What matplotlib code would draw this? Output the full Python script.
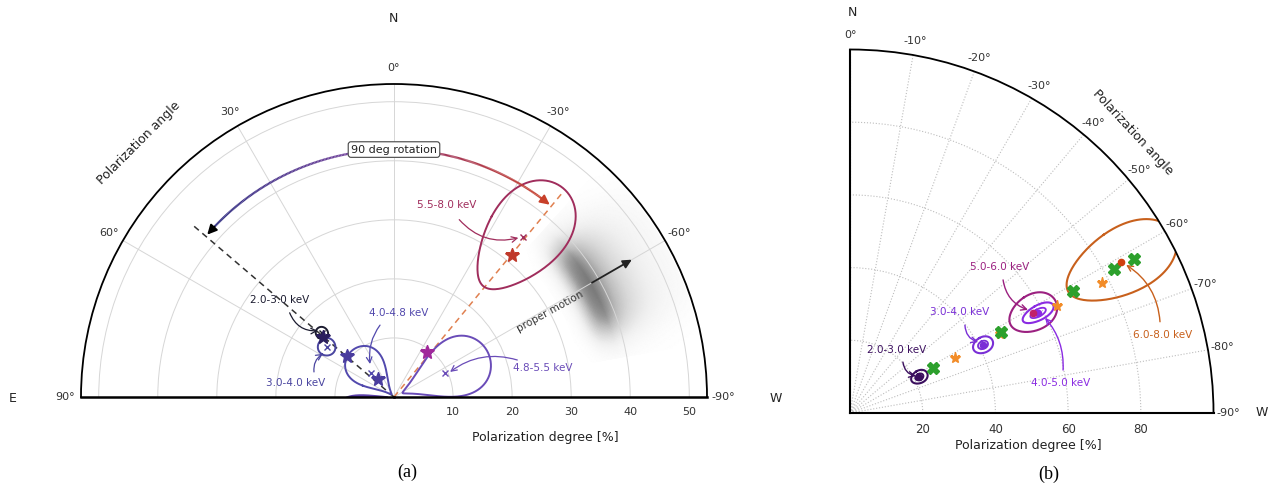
import numpy as np
import matplotlib
matplotlib.use('Agg')
import matplotlib.pyplot as plt
from matplotlib.collections import LineCollection
from matplotlib.colors import LinearSegmentedColormap

plt.rcParams['font.family'] = ['DejaVu Sans']

# ---------------- Panel (a) data ----------------
a_bands = ['2.0-3.0 keV', '3.0-4.0 keV', '4.0-4.8 keV', '4.8-5.5 keV', '5.5-8.0 keV']
a_pa = [48.4, 53.3, 43.0, -64.8, -38.9]          # measured angle [deg]
a_pd = [16.3, 14.2, 5.6, 9.6, 34.8]              # measured degree [%]
a_pa_err = [3.5, 6.0, 27.0, 25.0, 10.5]
a_pd_err = [1.1, 1.5, 5.0, 8.0, 10.7]
a_colors = ['#1c1c30', '#4a45a0', '#5249ad', '#6a4cb8', '#a02d5c']
a_model_pa = [49.8, 48.9, 41.6, -36.0, -39.7]
a_model_pd = [15.8, 10.6, 4.1, 9.5, 31.3]
a_model_colors = ['#2a1e5e', '#4a3d9e', '#4a3d9e', '#a0289a', '#c0392b']
a_extra_pa = [97.0]          # clipped contour near the origin
a_extra_pd = [5.0]
a_extra_pa_err = [9.0]
a_extra_pd_err = [3.8]
a_rot_before = 49.5          # direction before rotation
a_rot_after = -39.5          # direction after rotation
a_rot_len = [44.7, 45.0]
a_proper_motion_pa = -60.0
a_proper_motion_pd = [38.7, 46.5]

# ---------------- Panel (b) data ----------------
b_bands = ['2.0-3.0 keV', '3.0-4.0 keV', '4.0-5.0 keV', '5.0-6.0 keV', '6.0-8.0 keV']
b_pa = [-62.5, -62.9, -62.0, -61.3, -60.9]
b_pd = [21.5, 41.1, 58.6, 57.4, 85.3]
b_pa_err = [4.6, 3.0, 2.0, 4.9, 6.0]
b_pd_err = [2.4, 2.9, 4.7, 7.0, 16.6]
b_inner = [True, True, True, False, False]
b_colors = ['#3b0f5e', '#7a2fd6', '#8a2be2', '#9b2080', '#c8601c']
b_dot_colors = ['#3b0f5e', '#7a2fd6', '#8a2be2', '#c0206a', '#d0400f']
b_x_pa = [-61.5, -61.8, -61.3, -61.4, -61.5]
b_x_pd = [26.0, 47.1, 69.9, 82.7, 88.9]
b_star_pa = [-62.4, -62.3, -62.7, -62.7]
b_star_pd = [32.6, 46.5, 64.1, 78.0]

W, H = 1271, 488
fig = plt.figure(figsize=(W / 100, H / 100), dpi=100)


def ell(pa, pd, dpa, dpd, n=200):
    t = np.linspace(0, 2 * np.pi, n)
    return np.radians(pa + dpa * np.cos(t)), pd + dpd * np.sin(t)


def R(d):
    return np.radians(d)


# ======================= Panel (a) =======================
# square axes box; the half-disk (626 x 313 px) sits centred in it
cx, base, rad_px = 394, 397, 313
sq = 2 * rad_px
ax = fig.add_axes([(cx - rad_px) / W, (H - (base - rad_px / 2) - sq / 2) / H, sq / W, sq / H],
                  projection='polar')
ax.set_theta_zero_location('N')
ax.set_thetamin(-90)
ax.set_thetamax(90)
ax.set_rlim(0, 53)
angs = [90, 60, 30, 0, -30, -60, -90]
ax.set_thetagrids(angs, [f'{a}°' for a in angs])
ax.set_rgrids([10, 20, 30, 40, 50], ['10', '20', '30', '40', '50'])
ax.tick_params(axis='x', pad=1, labelsize=8, labelcolor='#333333')
ax.tick_params(axis='y', labelsize=8, labelcolor='#333333')
ax.grid(True, color='#d6d6d6', lw=0.7, ls='-')
ax.spines['polar'].set_linewidth(1.3)
ax.spines['start'].set_linewidth(1.8)
ax.spines['end'].set_linewidth(1.8)

# grey proper-motion shading
thd = np.linspace(-80, -42, 100)
rr = np.linspace(32, 52.5, 80)
TH, RR = np.meshgrid(thd, rr)
ang = 1 / (1 + np.exp(-(TH + 73) / 2.5)) * 1 / (1 + np.exp((TH + 48) / 2.5))
radp = 1 / (1 + np.exp(-(RR - 35.5) / 0.9)) * np.exp(-np.clip(RR - 38.5, 0, None) / 5.5)
ax.pcolormesh(np.radians(TH), RR, ang * radp, cmap='Greys', vmin=0, vmax=1.6,
              shading='gouraud', zorder=0.5)

# dashed rotation lines
ax.plot([R(a_rot_before)] * 2, [0, a_rot_len[0]], ls=(0, (4, 3)), color='#333333', lw=1.1)
ax.plot([R(a_rot_after)] * 2, [0, a_rot_len[1]], ls=(0, (4, 3)), color='#e08050', lw=1.1)

# contours
for pa, pd, dpa, dpd, c in zip(a_pa, a_pd, a_pa_err, a_pd_err, a_colors):
    t, r = ell(pa, pd, dpa, dpd)
    ax.plot(t, r, color=c, lw=1.4)
for pa, pd, dpa, dpd in zip(a_extra_pa, a_extra_pd, a_extra_pa_err, a_extra_pd_err):
    t, r = ell(pa, pd, dpa, dpd)
    ax.plot(t, r, color='#5b3fa8', lw=2.4)

# measured points (x) and model points (stars)
for pa, pd, c in zip(a_pa, a_pd, a_colors):
    ax.plot(R(pa), pd, marker='x', color=c, ms=5, mew=1.0, ls='none')
for pa, pd, c in zip(a_model_pa, a_model_pd, a_model_colors):
    ax.plot(R(pa), pd, marker='*', color=c, ms=10, ls='none', zorder=5)

# 90 deg rotation arc (gradient)
r_arc = 41.9
cm_left = LinearSegmentedColormap.from_list('l', ['#7a4aa0', '#2c2c80'])
cm_right = LinearSegmentedColormap.from_list('r', ['#9a2d5a', '#c8402a'])
for start, end, cm in [(7.5, a_rot_before - 1.5, cm_left), (-7.5, a_rot_after + 1.5, cm_right)]:
    th = np.radians(np.linspace(start, end, 120))
    pts = np.column_stack([th, np.full_like(th, r_arc)])
    segs = np.stack([pts[:-1], pts[1:]], axis=1)
    lc = LineCollection(segs, cmap=cm, lw=1.6)
    lc.set_array(np.linspace(0, 1, len(segs)))
    ax.add_collection(lc)
ax.annotate('', xy=(R(a_rot_before - 0.5), r_arc), xytext=(R(a_rot_before - 3), r_arc),
            arrowprops=dict(arrowstyle='-|>', color='black', lw=1.4, mutation_scale=14,
                            shrinkA=0, shrinkB=0))
ax.annotate('', xy=(R(a_rot_after + 0.5), r_arc), xytext=(R(a_rot_after + 3), r_arc),
            arrowprops=dict(arrowstyle='-|>', color='#c8402a', lw=1.4, mutation_scale=14,
                            shrinkA=0, shrinkB=0))
ax.text(0, r_arc, '90 deg rotation', ha='center', va='center', fontsize=8, color='#222222',
        bbox=dict(boxstyle='round,pad=0.25', fc='white', ec='#444444', lw=0.8), zorder=6)

# proper motion arrow
ax.annotate('', xy=(R(a_proper_motion_pa), a_proper_motion_pd[1]),
            xytext=(R(a_proper_motion_pa), a_proper_motion_pd[0]),
            arrowprops=dict(arrowstyle='-|>', color='#222222', lw=1.3, mutation_scale=13,
                            shrinkA=0, shrinkB=0))
ax.text(R(-61.4), 30.1, 'proper motion', rotation=29, ha='center', va='center',
        fontsize=7.5, color='#333333')

# band labels with curved arrows
a_lab = [  # text pos (deg, r), arrow start (deg, r), arrow end (deg, r), rad
    ((49.6, 25.4), (51.1, 22.7), (49.0, 17.1), 0.35),
    ((81.9, 16.9), (72.6, 14.2), (58.8, 14.1), -0.3),
    ((-3.4, 14.3), (11.0, 12.4), (36.0, 6.9), 0.2),
    ((-78.9, 25.6), (-73.3, 21.8), (-65.9, 10.4), 0.25),
    ((-15.4, 33.8), (-20.2, 32.0), (-38.0, 34.2), 0.3),
]
for name, c, (tp, st, en, rad) in zip(a_bands, a_colors, a_lab):
    ax.text(R(tp[0]), tp[1], name, ha='center', va='center', fontsize=7.5, color=c, zorder=7)
    ax.annotate('', xy=(R(en[0]), en[1]), xytext=(R(st[0]), st[1]),
                arrowprops=dict(arrowstyle='->', color=c, lw=0.9,
                                connectionstyle=f'arc3,rad={rad}', shrinkA=0, shrinkB=0))

fig.text(393 / W, 1 - 18 / H, 'N', ha='center', va='center', fontsize=9, color='#222222')
fig.text(13 / W, 1 - 398 / H, 'E', ha='center', va='center', fontsize=9, color='#222222')
fig.text(776 / W, 1 - 398 / H, 'W', ha='center', va='center', fontsize=9, color='#222222')
fig.text(139 / W, 1 - 143 / H, 'Polarization angle', rotation=45, ha='center', va='center',
         fontsize=9, color='#222222')
fig.text(545 / W, 1 - 438 / H, 'Polarization degree [%]', ha='center', va='center',
         fontsize=9, color='#222222')
fig.text(407 / W, 1 - 472 / H, '(a)', ha='center', va='center', fontsize=13,
         family='Liberation Serif')

# ======================= Panel (b) =======================
bx = fig.add_axes([850 / W, (H - 413) / H, 363.5 / W, 363.5 / H], projection='polar')
bx.set_theta_zero_location('N')
bx.set_thetamin(-90)
bx.set_thetamax(0)
bx.set_rlim(0, 100)
bangs = list(range(0, -100, -10))
bx.set_thetagrids(bangs, [f'{a}°' for a in bangs])
bx.set_rgrids([20, 40, 60, 80], ['20', '40', '60', '80'])
bx.tick_params(axis='x', pad=0, labelsize=8, labelcolor='#333333')
bx.tick_params(axis='y', labelsize=8.5, labelcolor='#333333')
bx.grid(True, color='#bdbdbd', lw=0.8, ls=':')
bx.spines['polar'].set_linewidth(1.3)
bx.spines['start'].set_linewidth(1.5)
bx.spines['end'].set_linewidth(1.5)

for pa, pd, dpa, dpd, c, inn in zip(b_pa, b_pd, b_pa_err, b_pd_err, b_colors, b_inner):
    t, r = ell(pa, pd, dpa, dpd)
    bx.plot(t, r, color=c, lw=1.5)
    if inn:
        t, r = ell(pa, pd, dpa * 0.5, dpd * 0.5)
        bx.plot(t, r, color=c, lw=1.3)
bx.plot(R(np.array(b_star_pa)), b_star_pd, marker='*', color='#f28c28', ms=8, ls='none', zorder=4)
bx.plot(R(np.array(b_x_pa)), b_x_pd, marker='X', color='#2ca02c', ms=9, mec='#2ca02c', ls='none', zorder=5)
for pa, pd, c in zip(b_pa, b_pd, b_dot_colors):
    bx.plot(R(pa), pd, marker='o', color=c, ms=4.5, ls='none', zorder=6)

b_lab = [
    ((-36.7, 21.6), (-46.1, 20.2), (-60.7, 20.8), 0.35),
    ((-47.4, 41.1), (-52.6, 39.8), (-61.0, 40.3), 0.35),
    ((-81.9, 58.4), (-78.6, 59.8), (-64.0, 59.7), 0.2),
    ((-45.8, 57.6), (-49.0, 55.8), (-59.9, 56.6), 0.3),
    ((-76.0, 88.5), (-73.6, 88.9), (-61.8, 86.2), 0.25),
]
for name, c, (tp, st, en, rad) in zip(b_bands, b_colors, b_lab):
    bx.text(R(tp[0]), tp[1], name, ha='center', va='center', fontsize=7.5, color=c, zorder=7)
    bx.annotate('', xy=(R(en[0]), en[1]), xytext=(R(st[0]), st[1]),
                arrowprops=dict(arrowstyle='->', color=c, lw=1.0,
                                connectionstyle=f'arc3,rad={rad}', shrinkA=0, shrinkB=0))

fig.text(852 / W, 1 - 12 / H, 'N', ha='center', va='center', fontsize=9, color='#222222')
fig.text(1262 / W, 1 - 413 / H, 'W', ha='center', va='center', fontsize=9, color='#222222')
fig.text(1133 / W, 1 - 132 / H, 'Polarization angle', rotation=-47, ha='center', va='center',
         fontsize=9, color='#222222')
fig.text(1028 / W, 1 - 445 / H, 'Polarization degree [%]', ha='center', va='center',
         fontsize=9, color='#222222')
fig.text(1049 / W, 1 - 474 / H, '(b)', ha='center', va='center', fontsize=13,
         family='Liberation Serif')

fig.savefig('out.png', dpi=100, facecolor='white')
